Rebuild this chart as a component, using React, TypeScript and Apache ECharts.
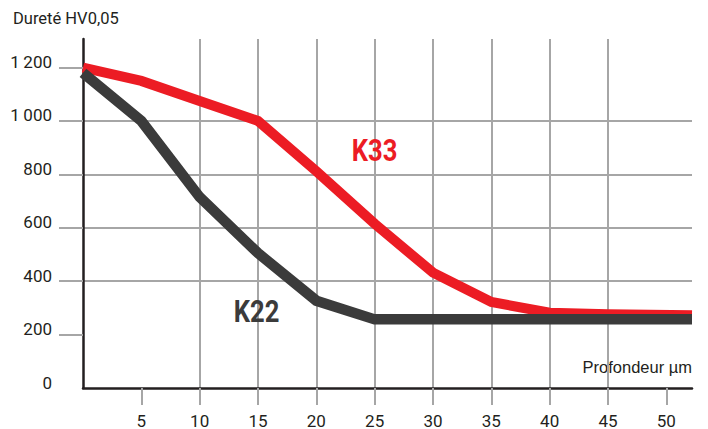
import React, { useEffect, useRef } from "react";
import * as echarts from "echarts";

const depthTicks = [5, 10, 15, 20, 25, 30, 35, 40, 45, 50];
const hardnessTicks = [200, 400, 600, 800, 1000, 1200];

const k33Depth = [0, 5, 10, 15, 20, 25, 30, 35, 40, 45, 52.2];
const k33Hardness = [1200, 1150, 1075, 1000, 812, 615, 432, 322, 282, 276, 272];

const k22Depth = [0, 5, 10, 15, 20, 25, 30, 35, 40, 45, 52.2];
const k22Hardness = [1180, 1000, 715, 505, 327, 257, 257, 257, 257, 257, 257];

const yTitle = "Dureté HV0,05";
const xTitle = "Profondeur µm";

const RED = "#ec1c24";
const DARK = "#3b3b3b";
const GRID = "#a6a6a6";
const AXIS = "#231f20";
const TEXT = "#231f20";
const FONT = "Roboto, 'Liberation Sans', sans-serif";

export default function App() {
  const ref = useRef<HTMLDivElement>(null);
  useEffect(() => {
    if (!ref.current) return;
    const chart = echarts.init(ref.current, null, { renderer: "svg" });
    chart.setOption({
      animation: false,
      backgroundColor: "#ffffff",
      grid: { left: 83, right: 16, top: 39, bottom: 40, containLabel: false },
      xAxis: {
        type: "value",
        min: 0,
        max: 52.2,
        interval: 5,
        axisLine: { show: true, onZero: false, lineStyle: { color: AXIS, width: 2.5 } },
        axisTick: {
          show: true,
          customValues: depthTicks,
          length: 17,
          lineStyle: { color: GRID, width: 2 },
        },
        axisLabel: {
          customValues: depthTicks,
          margin: 24,
          color: TEXT,
          fontFamily: FONT,
          fontSize: 17,
        },
        splitLine: {
          show: true,
          showMinLine: false,
          showMaxLine: false,
          lineStyle: { color: GRID, width: 2 },
        },
      },
      yAxis: {
        type: "value",
        min: 0,
        max: 1307,
        interval: 200,
        axisLine: { show: true, onZero: false, lineStyle: { color: AXIS, width: 2.5 } },
        axisTick: {
          show: true,
          customValues: hardnessTicks,
          length: 24,
          lineStyle: { color: GRID, width: 2 },
        },
        axisLabel: {
          customValues: [0, ...hardnessTicks],
          margin: 31,
          color: TEXT,
          fontFamily: FONT,
          fontSize: 17,
          verticalAlign: "bottom",
          lineHeight: 11,
          formatter: (v: number) =>
            v >= 1000 ? Math.floor(v / 1000) + "\u2009" + String(v % 1000).padStart(3, "0") : String(v),
        },
        splitLine: {
          show: true,
          showMinLine: false,
          showMaxLine: false,
          lineStyle: { color: GRID, width: 2 },
        },
      },
      graphic: [
        {
          type: "text",
          left: 13,
          top: 10,
          style: { text: yTitle, fill: TEXT, font: `16.5px ${FONT}` },
        },
        {
          type: "text",
          right: 16,
          top: 358,
          style: { text: xTitle, fill: TEXT, font: `16.5px 'Liberation Sans', ${FONT}` },
        },
        {
          type: "text",
          x: 374.5,
          y: 150,
          scaleX: 0.8,
          z: 100,
          style: {
            text: "K33",
            fill: RED,
            font: `bold 32px ${FONT}`,
            textAlign: "center",
            textVerticalAlign: "middle",
          },
        },
        {
          type: "text",
          x: 256.5,
          y: 311,
          scaleX: 0.8,
          z: 100,
          style: {
            text: "K22",
            fill: DARK,
            font: `bold 32px ${FONT}`,
            textAlign: "center",
            textVerticalAlign: "middle",
          },
        },
      ],
      series: [
        {
          name: "K33",
          type: "line",
          data: k33Depth.map((d, i) => [d, k33Hardness[i]]),
          showSymbol: false,
          symbol: "none",
          lineStyle: { color: RED, width: 10, cap: "butt", join: "miter" },
          z: 3,
        },
        {
          name: "K22",
          type: "line",
          data: k22Depth.map((d, i) => [d, k22Hardness[i]]),
          showSymbol: false,
          symbol: "none",
          lineStyle: { color: DARK, width: 10.5, cap: "butt", join: "miter" },
          z: 4,
        },
      ],
    });
    return () => chart.dispose();
  }, []);
  return <div ref={ref} style={{ width: 708, height: 429, position: "fixed", left: 0, top: 0 }} />;
}
